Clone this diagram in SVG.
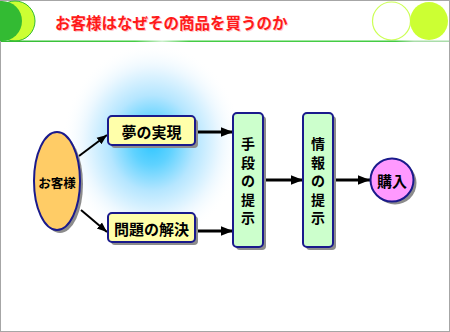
<svg xmlns="http://www.w3.org/2000/svg" width="450" height="332" viewBox="0 0 450 332">
<defs>
<radialGradient id="glow" cx="152" cy="143" r="100" gradientUnits="userSpaceOnUse" gradientTransform="translate(152 143) scale(0.9 1) translate(-152 -143)">
<stop offset="0" stop-color="#30c6ff"/>
<stop offset="0.22" stop-color="#5fd2ff"/>
<stop offset="0.48" stop-color="#b5e6ff"/>
<stop offset="0.75" stop-color="#eaf7ff"/>
<stop offset="1" stop-color="#ffffff" stop-opacity="0"/>
</radialGradient>
<linearGradient id="hline" x1="0" y1="0" x2="450" y2="0" gradientUnits="userSpaceOnUse">
<stop offset="0" stop-color="#33bb33"/>
<stop offset="0.3" stop-color="#44cc44"/>
<stop offset="0.36" stop-color="#ccf0cc"/>
<stop offset="0.42" stop-color="#44cc44"/>
<stop offset="0.88" stop-color="#44cc44"/>
<stop offset="0.92" stop-color="#aaddaa"/>
<stop offset="1" stop-color="#aaddaa"/>
</linearGradient>
<marker id="ah" viewBox="0 0 10 10" refX="10" refY="5" markerWidth="4" markerHeight="4" orient="auto" markerUnits="strokeWidth">
<path d="M0,1 L10,5 L0,9 Z" fill="#000"/>
</marker>
<marker id="ahs" viewBox="0 0 10 10" refX="10" refY="5" markerWidth="5" markerHeight="5" orient="auto" markerUnits="strokeWidth">
<path d="M0,1 L10,5 L0,9 Z" fill="#000"/>
</marker>
</defs>
<style>
.lbl{font-family:"Noto Sans CJK JP","Noto Sans CJK SC",sans-serif;font-weight:bold;fill:#000;text-anchor:middle;dominant-baseline:central}
.node{stroke:#1a1a8c;stroke-width:2}
.shadow{fill:#8c8c8c}
.conn{stroke:#000;fill:none}
</style>
<rect x="0" y="0" width="450" height="332" fill="#ffffff"/>
<rect x="0.5" y="0.5" width="449" height="331" fill="none" stroke="#a6a6a6" stroke-width="1"/>

<g id="header">
<circle cx="15" cy="21" r="20" fill="#ccff33" stroke="#33bb33" stroke-width="1"/>
<circle cx="2" cy="21" r="20" fill="#33bb33"/>
<circle cx="391.5" cy="21" r="19" fill="#ffffff" stroke="#ccff55" stroke-width="1.2"/>
<circle cx="429" cy="21" r="19" fill="#ccff33"/>
<rect x="1" y="40.5" width="448" height="1.5" fill="url(#hline)"/>
<text x="55" y="22" font-family="'Noto Sans CJK JP','Noto Sans CJK SC',sans-serif" font-weight="bold" font-size="15.5" fill="#ffc8c8" dominant-baseline="central" transform="translate(1 1)">お客様はなぜその商品を買うのか</text>
<text x="55" y="22" font-family="'Noto Sans CJK JP','Noto Sans CJK SC',sans-serif" font-weight="bold" font-size="15.5" fill="#ff1a1a" dominant-baseline="central">お客様はなぜその商品を買うのか</text>
</g>

<rect x="40" y="43" width="230" height="215" fill="url(#glow)"/>

<g id="connectors">
<line class="conn" x1="79" y1="156" x2="107" y2="135" stroke-width="2" marker-end="url(#ahs)"/>
<line class="conn" x1="81" y1="210" x2="107" y2="232" stroke-width="2" marker-end="url(#ahs)"/>
<line class="conn" x1="196" y1="132" x2="233" y2="132" stroke-width="3" marker-end="url(#ah)"/>
<line class="conn" x1="196" y1="231" x2="233" y2="231" stroke-width="3" marker-end="url(#ah)"/>
<line class="conn" x1="264" y1="180" x2="303" y2="180" stroke-width="3" marker-end="url(#ah)"/>
<line class="conn" x1="334" y1="180" x2="370" y2="180" stroke-width="3" marker-end="url(#ah)"/>
</g>

<g id="customer">
<ellipse class="shadow" cx="60" cy="184" rx="23" ry="49"/>
<ellipse class="node" cx="57" cy="181" rx="23" ry="49" fill="#ffcc66"/>
<text class="lbl" x="57" y="182" font-size="12.5">お客様</text>
</g>

<g id="dream">
<rect class="shadow" x="111" y="119" width="87" height="29" rx="4"/>
<rect class="node" x="108" y="116" width="87" height="29" rx="4" fill="#ffffaa"/>
<text class="lbl" x="151.5" y="131" font-size="15">夢の実現</text>
</g>

<g id="problem">
<rect class="shadow" x="111" y="216" width="87" height="29" rx="4"/>
<rect class="node" x="108" y="213" width="87" height="29" rx="4" fill="#ffffaa"/>
<text class="lbl" x="151.5" y="228" font-size="15">問題の解決</text>
</g>

<g id="means">
<rect class="shadow" x="236" y="116" width="30" height="134" rx="4"/>
<rect class="node" x="233" y="113" width="30" height="134" rx="4" fill="#ccffcc"/>
<text class="lbl" x="248" font-size="14"><tspan x="248" y="143">手</tspan><tspan x="248" y="161.5">段</tspan><tspan x="248" y="180">の</tspan><tspan x="248" y="198.5">提</tspan><tspan x="248" y="217">示</tspan></text>
</g>

<g id="info">
<rect class="shadow" x="306" y="116" width="30" height="134" rx="4"/>
<rect class="node" x="303" y="113" width="30" height="134" rx="4" fill="#ccffcc"/>
<text class="lbl" x="318" font-size="14"><tspan x="318" y="143">情</tspan><tspan x="318" y="161.5">報</tspan><tspan x="318" y="180">の</tspan><tspan x="318" y="198.5">提</tspan><tspan x="318" y="217">示</tspan></text>
</g>

<g id="purchase">
<circle class="shadow" cx="395" cy="183" r="21.5"/>
<circle class="node" cx="392" cy="180" r="21.5" fill="#ff99ff"/>
<text class="lbl" x="392" y="180" font-size="15">購入</text>
</g>
</svg>
